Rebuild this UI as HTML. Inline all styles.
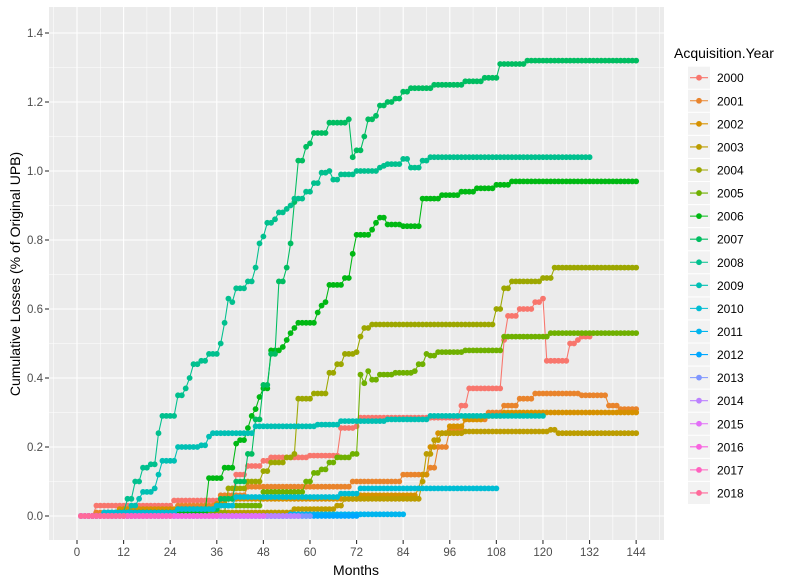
<!DOCTYPE html>
<html><head><meta charset="utf-8"><style>
body{margin:0;background:#fff;}
svg{display:block;font-family:"Liberation Sans",Arial,sans-serif;}
</style></head><body>
<svg id="s" width="806" height="586" xmlns="http://www.w3.org/2000/svg"></svg>
<script>
const S=document.getElementById('s');let h='';
const X=m=>77+m*3.883, Y=v=>516-v*345;
function hcl(H){const L=65,C=100,hr=H*Math.PI/180,u=C*Math.cos(hr),v=C*Math.sin(hr);
const Xn=95.047,Yn=100,Zn=108.883,un=4*Xn/(Xn+15*Yn+3*Zn),vn=9*Yn/(Xn+15*Yn+3*Zn);
const y=Yn*Math.pow((L+16)/116,3),up=u/(13*L)+un,vp=v/(13*L)+vn;
const x=9*y*up/(4*vp),z=y*(12-3*up-20*vp)/(4*vp);
const xr=x/100,yr=y/100,zr=z/100;
let r=3.2406*xr-1.5372*yr-0.4986*zr,g=-0.9689*xr+1.8758*yr+0.0415*zr,b=0.0557*xr-0.2040*yr+1.0570*zr;
const f=c=>{c=c<=0.0031308?12.92*c:1.055*Math.pow(c,1/2.4)-0.055;return Math.round(Math.max(0,Math.min(1,c))*255);};
return `rgb(${f(r)},${f(g)},${f(b)})`;}
const cols=[];for(let i=0;i<19;i++)cols.push(hcl(15+360*i/19));
// panel
h+=`<rect x="49" y="7" width="615" height="533" fill="#ebebeb"/>`;
for(let v=0.1;v<1.5;v+=0.2)h+=`<line x1="49" x2="664" y1="${Y(v)}" y2="${Y(v)}" stroke="#fff" stroke-width="0.55"/>`;
for(let m=-6;m<=150;m+=12)h+=`<line y1="7" y2="540" x1="${X(m)}" x2="${X(m)}" stroke="#fff" stroke-width="0.55"/>`;
for(let i=0;i<=7;i++){const v=i*0.2;h+=`<line x1="49" x2="664" y1="${Y(v)}" y2="${Y(v)}" stroke="#fff" stroke-width="1.1"/>`;
h+=`<line x1="45" x2="49" y1="${Y(v)}" y2="${Y(v)}" stroke="#333" stroke-width="1.1"/>`;
h+=`<text x="43" y="${Y(v)+4}" font-size="11.5" fill="#4d4d4d" text-anchor="end">${v.toFixed(1)}</text>`;}
for(let m=0;m<=144;m+=12){h+=`<line y1="7" y2="540" x1="${X(m)}" x2="${X(m)}" stroke="#fff" stroke-width="1.1"/>`;
h+=`<line y1="540" y2="544" x1="${X(m)}" x2="${X(m)}" stroke="#333" stroke-width="1.1"/>`;
h+=`<text x="${X(m)}" y="556" font-size="11.5" fill="#4d4d4d" text-anchor="middle">${m}</text>`;}
h+=`<text x="356" y="575" font-size="14" fill="#000" text-anchor="middle">Months</text>`;
h+=`<text transform="translate(20,274) rotate(-90)" font-size="14" fill="#000" text-anchor="middle">Cumulative Losses (% of Original UPB)</text>`;
// data: [start,end, breakpoints]
const D=[
[1,132,[[1,0],[5,0.03],[25,0.045],[38,0.05],[41,0.12],[44,0.145],[48,0.16],[50,0.17],[60,0.175],[68,0.255],[72,0.26],[73,0.285],[99,0.32],[101,0.37],[110,0.51],[111,0.58],[114,0.6],[118,0.62],[120,0.63],[121,0.45],[126,0.45],[127,0.5],[129,0.51],[130,0.52]]],
[1,144,[[1,0],[5,0.01],[26,0.03],[37,0.06],[44,0.085],[71,0.10],[84,0.12],[91,0.14],[93,0.2],[96,0.25],[100,0.28],[106,0.3],[110,0.32],[114,0.34],[118,0.355],[130,0.35],[137,0.32],[140,0.31]]],
[1,144,[[1,0],[11,0.02],[36,0.035],[39,0.05],[73,0.06],[88,0.08],[89,0.12],[91,0.2],[93,0.24],[96,0.26],[100,0.28],[105,0.29],[110,0.30]]],
[1,144,[[1,0],[20,0.01],[56,0.02],[67,0.03],[69,0.05],[89,0.1],[90,0.18],[92,0.22],[94,0.24],[100,0.245],[122,0.25],[124,0.24]]],
[1,144,[[1,0],[25,0.01],[39,0.08],[44,0.1],[48,0.13],[50,0.155],[54,0.17],[56,0.18],[57,0.34],[61,0.355],[65,0.415],[67,0.44],[69,0.47],[72,0.475],[73,0.52],[74,0.545],[76,0.555],[108,0.6],[110,0.66],[112,0.68],[120,0.69],[123,0.72]]],
[1,144,[[1,0],[15,0.01],[36,0.03],[48,0.07],[59,0.1],[61,0.125],[63,0.135],[65,0.155],[67,0.17],[71,0.18],[73,0.41],[74,0.385],[75,0.42],[76,0.395],[78,0.41],[82,0.415],[87,0.42],[88,0.44],[90,0.47],[91,0.465],[93,0.475],[100,0.48],[110,0.52],[122,0.53]]],
[1,144,[[1,0],[10,0.01],[34,0.11],[38,0.14],[41,0.21],[42,0.22],[44,0.255],[45,0.29],[46,0.31],[47,0.345],[48,0.37],[50,0.48],[53,0.49],[54,0.51],[55,0.53],[56,0.545],[57,0.56],[62,0.59],[63,0.61],[64,0.62],[65,0.67],[69,0.69],[71,0.76],[72,0.815],[76,0.83],[77,0.85],[78,0.865],[80,0.845],[84,0.84],[89,0.92],[94,0.93],[99,0.94],[103,0.95],[108,0.96],[112,0.97]]],
[1,144,[[1,0],[26,0.02],[37,0.05],[41,0.1],[44,0.18],[46,0.28],[48,0.38],[50,0.47],[52,0.68],[54,0.72],[55,0.79],[56,0.91],[57,1.03],[59,1.07],[60,1.08],[61,1.11],[65,1.14],[70,1.15],[71,1.04],[72,1.06],[74,1.10],[75,1.15],[77,1.16],[78,1.19],[80,1.2],[82,1.21],[84,1.23],[86,1.24],[92,1.25],[100,1.26],[105,1.27],[109,1.31],[116,1.32]]],
[1,132,[[1,0],[8,0.01],[13,0.05],[15,0.1],[17,0.14],[19,0.15],[21,0.24],[22,0.29],[26,0.35],[28,0.37],[29,0.4],[30,0.44],[32,0.45],[34,0.47],[37,0.5],[38,0.56],[39,0.63],[40,0.62],[41,0.66],[44,0.68],[46,0.72],[47,0.79],[48,0.81],[49,0.85],[51,0.86],[52,0.88],[54,0.89],[55,0.9],[56,0.92],[59,0.94],[61,0.965],[63,0.995],[65,1.0],[66,0.975],[68,0.99],[72,1.0],[78,1.01],[79,1.015],[80,1.02],[84,1.035],[86,1.01],[89,1.03],[91,1.04]]],
[1,120,[[1,0],[7,0.01],[14,0.03],[16,0.05],[17,0.07],[20,0.08],[21,0.12],[22,0.16],[26,0.2],[32,0.205],[34,0.23],[35,0.24],[46,0.26],[62,0.265],[68,0.275],[80,0.28],[91,0.29]]],
[1,108,[[1,0],[7,0.01],[26,0.02],[36,0.03],[41,0.055],[68,0.065],[73,0.08]]],
[1,84,[[1,0],[55,0.005]]],
[1,72,[[1,0]]],[1,60,[[1,0]]],[1,57,[[1,0]]],[1,48,[[1,0]]],[1,36,[[1,0]]],[1,24,[[1,0]]],[1,12,[[1,0]]]
];
D.forEach((d,i)=>{const [s,e,b]=d;let pts=[],k=0;
for(let m=s;m<=e;m++){while(k+1<b.length&&b[k+1][0]<=m)k++;pts.push([X(m),Y(b[k][1])]);}
const c=cols[i];
h+=`<polyline fill="none" stroke="${c}" stroke-width="1.07" points="${pts.map(p=>p[0].toFixed(1)+','+p[1].toFixed(1)).join(' ')}"/>`;
pts.forEach(p=>h+=`<circle cx="${p[0].toFixed(1)}" cy="${p[1].toFixed(1)}" r="2.9" fill="${c}"/>`);});
// legend
h+=`<text x="674" y="58" font-size="14" fill="#000">Acquisition.Year</text>`;
for(let i=0;i<19;i++){const cy=77.7+i*23.07;
h+=`<rect x="688" y="${cy-11}" width="22" height="22" fill="#f2f2f2"/>`;
h+=`<line x1="690" x2="708" y1="${cy}" y2="${cy}" stroke="${cols[i]}" stroke-width="1.07"/>`;
h+=`<circle cx="699" cy="${cy}" r="2.9" fill="${cols[i]}"/>`;
h+=`<text x="717" y="${cy+4.5}" font-size="12" fill="#000">${2000+i}</text>`;}
S.innerHTML=h;
</script>
</body></html>
